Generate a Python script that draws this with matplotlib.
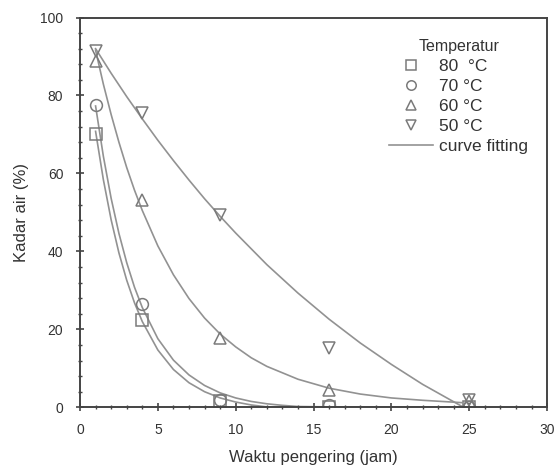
import matplotlib.pyplot as plt
from matplotlib.ticker import MultipleLocator

plt.rcParams['font.family'] = ['Liberation Sans', 'DejaVu Sans']

# measured points
waktu = [1, 4, 9, 16, 25]
kadar_80 = [70.2, 22.5, 1.5, 0.0, 0.0]
kadar_70 = [77.5, 26.5, 2.0, 0.5, 0.0]
kadar_60 = [88.8, 53.2, 17.7, 4.4, 1.5]
kadar_50 = [91.3, 75.4, 49.3, 15.2, 1.8]

# fitted curves
fit_x_fast = [1, 1.5, 2, 2.5, 3, 3.5, 4, 5, 6, 7, 8, 9, 10, 11, 12, 13, 14, 16, 18, 20, 22, 24.5]
fit_80 = [70.8, 58.4, 48.1, 39.6, 32.6, 26.8, 22.0, 14.7, 9.7, 6.3, 4.0, 2.4, 1.35, 0.6, 0.1,
          0.0, 0.0, 0.0, 0.0, 0.0, 0.0, 0.0]
fit_70 = [77.3, 64.4, 53.6, 44.6, 37.1, 30.8, 25.6, 17.6, 12.1, 8.3, 5.6, 3.7, 2.4, 1.5, 0.9,
          0.5, 0.2, 0.1, 0.05, 0.0, 0.0, 0.0]
fit_x_60 = [1, 1.5, 2, 2.5, 3, 3.5, 4, 5, 6, 7, 8, 9, 10, 11, 12, 14, 16, 18, 20, 22, 24.5]
fit_60 = [91.6, 82.9, 75.1, 68.0, 61.5, 55.7, 50.5, 41.4, 34.0, 27.9, 22.9, 18.8, 15.5, 12.7,
          10.5, 7.2, 4.9, 3.4, 2.4, 1.8, 1.2]
fit_x_50 = [1, 2, 3, 4, 5, 6, 7, 8, 9, 10, 12, 14, 16, 18, 20, 22, 24.5]
fit_50 = [92.0, 85.7, 79.7, 74.0, 68.5, 63.3, 58.3, 53.5, 49.0, 44.7, 36.6, 29.3, 22.6, 16.5,
          11.0, 5.9, 0.3]

labels = ['80  \u00b0C', '70 \u00b0C', '60 \u00b0C', '50 \u00b0C']
markers = ['s', 'o', '^', 'v']

mcol = '#7a7a7a'
lcol = '#929292'
tcol = '#333333'

fig = plt.figure(figsize=(5.56, 4.68), dpi=100)
ax = fig.add_axes([0.1439, 0.1297, 0.8401, 0.8329])

line, = ax.plot(fit_x_fast, fit_80, color=lcol, lw=1.2, label='curve fitting')
ax.plot(fit_x_fast, fit_70, color=lcol, lw=1.2)
ax.plot(fit_x_60, fit_60, color=lcol, lw=1.2)
ax.plot(fit_x_50, fit_50, color=lcol, lw=1.2)

handles = []
for ys, m, lab in zip([kadar_80, kadar_70, kadar_60, kadar_50], markers, labels):
    h, = ax.plot(waktu, ys, linestyle='none', marker=m, markersize=8.5,
                 markerfacecolor='none', markeredgecolor=mcol, markeredgewidth=1.1,
                 label=lab)
    handles.append(h)
handles.append(line)

ax.set_xlim(0, 30)
ax.set_ylim(0, 100)
ax.xaxis.set_major_locator(MultipleLocator(5))
ax.xaxis.set_minor_locator(MultipleLocator(1))
ax.yaxis.set_major_locator(MultipleLocator(20))
ax.yaxis.set_minor_locator(MultipleLocator(4))
ax.tick_params(which='major', direction='inout', length=6, width=1.2, colors='#444444',
               labelcolor=tcol, labelsize=10)
ax.tick_params(axis='y', which='major', pad=9)
ax.tick_params(axis='x', which='major', pad=8)
ax.tick_params(which='minor', direction='inout', length=3.5, width=1.0, colors='#444444')
for s in ax.spines.values():
    s.set_color('#444444')
    s.set_linewidth(1.4)

ax.set_xlabel('Waktu pengering (jam)', fontsize=12, color=tcol, labelpad=10)
ax.set_ylabel('Kadar air (%)', fontsize=12, color=tcol, labelpad=8)

leg = ax.legend(handles=handles, title='Temperatur', frameon=False, loc='upper right',
                bbox_to_anchor=(0.985, 0.975), fontsize=12.5, title_fontsize=11.5,
                handlelength=2.5, handletextpad=0.35, labelspacing=0.28, borderpad=0.2,
                markerscale=0.8)
for t in leg.get_texts():
    t.set_color(tcol)
leg.get_title().set_color(tcol)

fig.savefig('out.png', dpi=100)
